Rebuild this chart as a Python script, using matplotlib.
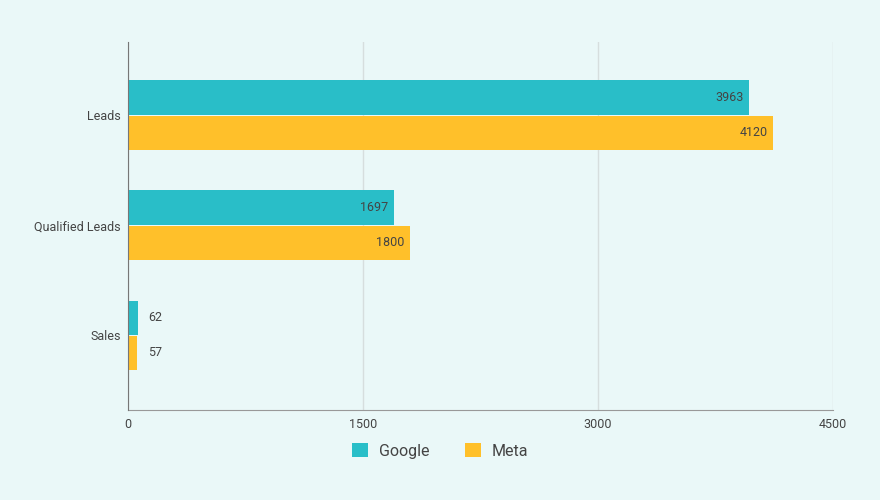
import numpy as np
import matplotlib.pyplot as plt

plt.rcParams['font.family'] = ['Roboto', 'DejaVu Sans']

categories = ['Leads', 'Qualified Leads', 'Sales']
google = [3963, 1697, 62]
meta = [4120, 1800, 57]
series_names = ['Google', 'Meta']
x_ticks = [0, 1500, 3000, 4500]

bg = '#eaf8f8'
c_google = '#29bec8'
c_meta = '#ffc02a'
text_c = '#444444'

fig = plt.figure(figsize=(8.8, 5), dpi=100, facecolor=bg)
ax = fig.add_axes([128/880, 1 - 410/500, (833-128)/880, (410-42)/500])
ax.set_facecolor(bg)

y = np.arange(len(categories))
h = 0.31
gap = 0.005
bars_g = ax.barh(y - h/2 - gap, google, height=h, color=c_google, label=series_names[0], zorder=3)
bars_m = ax.barh(y + h/2 + gap, meta, height=h, color=c_meta, label=series_names[1], zorder=3)

# value labels: inside the bar end for long bars, just outside for short ones
for bars, vals in [(bars_g, google), (bars_m, meta)]:
    for b, v in zip(bars, vals):
        cy = b.get_y() + b.get_height()/2
        if v > 500:
            ax.text(v - 35, cy, str(v), ha='right', va='center', fontsize=9, color=text_c, zorder=4)
        else:
            ax.text(v + 70, cy, str(v), ha='left', va='center', fontsize=9, color=text_c, zorder=4)

ax.set_xlim(0, 4500)
ax.set_ylim(2.68, -0.664)
ax.set_xticks(x_ticks)
ax.set_xticklabels([str(t) for t in x_ticks], fontsize=9, color=text_c)
ax.set_yticks(y)
ax.set_yticklabels(categories, fontsize=9, color=text_c)
ax.tick_params(axis='y', length=0, pad=5)
ax.tick_params(axis='x', length=0, pad=6)
ax.grid(axis='x', color='#d6dede', linewidth=1, zorder=0)
for s in ['top', 'right']:
    ax.spines[s].set_visible(False)
ax.spines['left'].set_color('#777777')
ax.spines['bottom'].set_color('#999999')
ax.spines['left'].set_zorder(5)

fig.legend(handles=[bars_g, bars_m], labels=series_names, loc='center',
           bbox_to_anchor=(0.5, 1 - 451/500), ncol=2, frameon=False,
           fontsize=11.5, handlelength=1.0, handleheight=1.0,
           columnspacing=2.2, handletextpad=0.7, labelcolor=text_c)

fig.savefig('out.png', dpi=100, facecolor=bg)
